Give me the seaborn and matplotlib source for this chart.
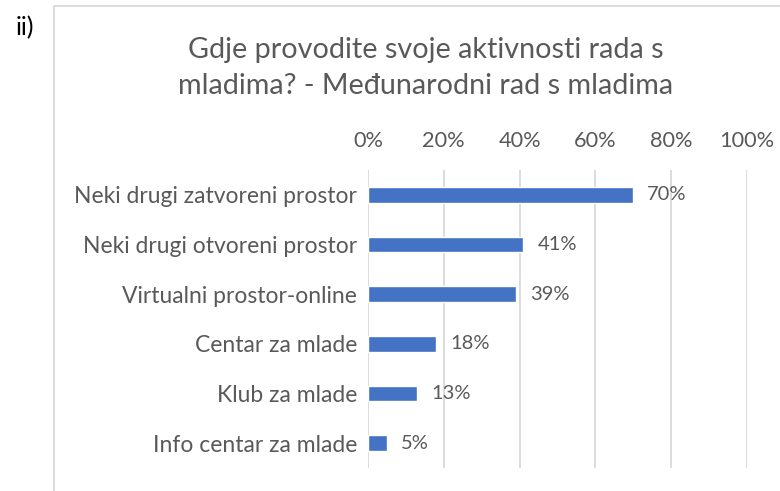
import matplotlib
matplotlib.use("Agg")
import matplotlib.pyplot as plt
import matplotlib.patches as mpatches
from matplotlib.ticker import FuncFormatter
import pandas as pd
import seaborn as sns

# data
categories = [
    "Neki drugi zatvoreni prostor",
    "Neki drugi otvoreni prostor",
    "Virtualni prostor-online",
    "Centar za mlade",
    "Klub za mlade",
    "Info centar za mlade",
]
shares = [70, 41, 39, 18, 13, 5]
x_ticks = [0, 20, 40, 60, 80, 100]

title = "Gdje provodite svoje aktivnosti rada s\nmladima? - Međunarodni rad s mladima"

TEXT = "#595959"
GRID = "#D9D9D9"
BAR = "#4472C4"

sns.set_theme(style="white")
plt.rcParams["font.family"] = ["Lato", "DejaVu Sans"]

df = pd.DataFrame({"category": categories, "share": shares})

W, H = 780, 491
fig = plt.figure(figsize=(W / 100, H / 100), dpi=100)

# outer chart frame (left and top edge visible)
frame = mpatches.Rectangle((54 / W, -0.1), 1.2, (H - 6) / H + 0.1,
                           transform=fig.transFigure, fill=False,
                           edgecolor=GRID, linewidth=1.3)
fig.patches.append(frame)

fig.text(16 / W, 1 - 28 / H, "ii)", fontsize=18, color="black",
         ha="left", va="center")
fig.text(426 / W, 1 - 68 / H, title, fontsize=20.7, color=TEXT,
         ha="center", va="center", linespacing=1.45)

ax = fig.add_axes([368 / W, 23 / H, (747 - 368) / W, (468 - 170) / H])
sns.barplot(data=df, x="share", y="category", orient="h", color=BAR,
            width=0.32, saturation=1, ax=ax)

ax.set_xlim(0, 100)
ax.set_ylim(len(categories) - 0.5, -0.5)
ax.set_xticks(x_ticks)
ax.xaxis.set_major_formatter(FuncFormatter(lambda v, _: f"{v:.0f}%"))
ax.xaxis.tick_top()
ax.tick_params(axis="x", length=0, pad=14, labelsize=15.7, labelcolor=TEXT)
ax.tick_params(axis="y", length=0, pad=8, labelsize=16.5, labelcolor=TEXT)
ax.set_xlabel("")
ax.set_ylabel("")
ax.grid(axis="x", color=GRID, linewidth=1.3)
ax.set_axisbelow(True)
for s in ax.spines.values():
    s.set_visible(False)

for i, v in enumerate(shares):
    ax.annotate(f"{v}%", xy=(v, i), xytext=(10, 0), textcoords="offset points",
                ha="left", va="center", fontsize=14.5, color=TEXT)

fig.savefig("out.png", dpi=100)
